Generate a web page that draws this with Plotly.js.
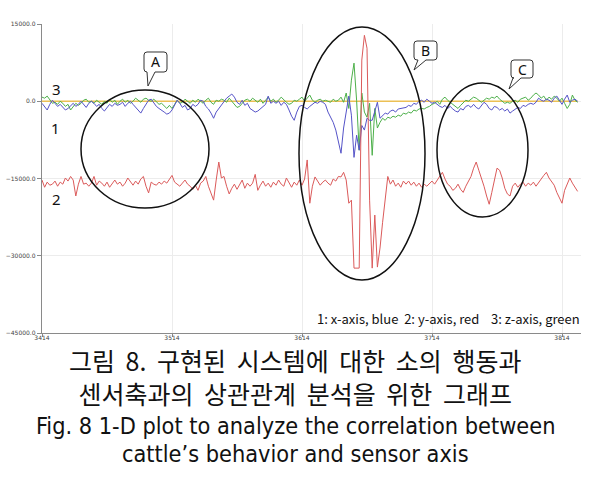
<!DOCTYPE html>
<html>
<head>
<meta charset="utf-8">
<script src="https://cdn.plot.ly/plotly-3.0.1.min.js"></script>
<style>html,body{margin:0;padding:0;background:#fff;}#chart{width:614px;height:477px;}</style>
</head>
<body>
<div id="chart"></div>
<script>
// ---- data ----
const xStart = 3414;
const xStep = 2;
const xTicks = [3414, 3514, 3614, 3714, 3814];
const xTickLabels = ["3414", "3514", "3614", "3714", "3814"];
const yTicks = [-45000, -30000, -15000, 0, 15000];
const zeroLineX = [3414, 3826];
const zeroLineY = [0, 0];

const blueX = [
 -400,-1000,-1700,-600,200,-400,-1000,-600,-1200,-1700,
 -1400,-800,-400,-1000,-600,0,-600,-1200,-400,0,
 -400,-1000,-600,-1400,-1900,-1200,-600,-1000,-400,-800,
 -600,-200,-1000,-400,0,-600,-1200,-1900,-2300,-1400,
 -600,200,400,-400,-1000,-1400,-1700,-2100,-2500,-2300,
 -1700,-600,200,-400,-1200,-800,-1700,-1400,-600,-1000,
 -600,200,0,-1000,-1500,-2300,-3300,-2100,-1400,-800,
 -200,600,1000,1400,800,-200,-600,200,-800,-400,
 -1400,-1700,-2100,-1900,-1500,-1000,-600,1000,-400,0,
 -400,0,-800,-200,-600,-1700,-2900,-3700,-2100,-1000,
 -800,-1200,-1500,-1000,-600,-200,-400,0,-200,-600,
 -2100,-3100,-4100,-5600,-7600,-10100,-5200,-2100,1000,-2700,
 -10900,-6600,-9500,-4700,-5600,-3300,-3700,-3700,-1700,-200,
 -3300,-2700,-2300,-2500,-1900,-1700,-2100,-1500,-1400,-1200,
 -1200,-800,-1000,-400,-600,0,200,-200,400,0,
 -400,-200,-600,-1000,-1200,-800,-1400,-1000,-1500,-1900,
 -2100,-1400,-1700,-1000,-800,-1200,-600,-1200,-1500,-800,
 -200,-600,-1400,-1700,-1000,-1200,-1700,-1400,-1900,-1500,
 -2300,-1900,-1500,-1200,-1400,-800,-1000,-600,-400,-600,
 -200,600,200,0,400,200,-200,600,1000,200,
 -600,400,1200,-200,200,400,0
];

const redY = [
 -15300,-16700,-15700,-16300,-16100,-15500,-16500,-15700,-16100,-14900,
 -15500,-14600,-15300,-18400,-16100,-14600,-16100,-15900,-16500,-15900,
 -14600,-16300,-15500,-15900,-16500,-15700,-16700,-16100,-15300,-16100,
 -15700,-16500,-15900,-14900,-15700,-16300,-15500,-16100,-15100,-14600,
 -16500,-17800,-15700,-16100,-16300,-15700,-16100,-15500,-15900,-15100,
 -14400,-15700,-16100,-16500,-15900,-15300,-16100,-16500,-17100,-16300,
 -17300,-15900,-15500,-14600,-16500,-17700,-19200,-15300,-11800,-14900,
 -14600,-16500,-18000,-16900,-16100,-17100,-16300,-15300,-16900,-15900,
 -16500,-15900,-14200,-17300,-16300,-15500,-16500,-15900,-16700,-15700,
 -16300,-15300,-16100,-16500,-14900,-15900,-16700,-15700,-16300,-15300,
 -16300,-15100,-11400,-19800,-16500,-14700,-15500,-16300,-15700,-15300,
 -15900,-16300,-15100,-15500,-14600,-14700,-13800,-15300,-19800,-19200,
 -32400,-32400,-32400,8000,12800,10300,-19200,-32400,-22100,-32200,
 -28500,-23500,-18800,-14600,-16100,-15300,-16500,-15900,-16700,-15500,
 -16100,-15500,-16300,-15700,-16500,-15900,-16700,-16100,-16500,-15900,
 -15500,-16100,-15300,-14600,-13800,-15100,-16100,-16500,-17300,-16900,
 -16100,-17100,-17700,-16500,-15500,-14600,-13000,-11800,-13400,-14900,
 -16500,-18400,-20000,-17700,-15300,-13000,-13400,-14900,-16900,-18000,
 -18400,-16500,-15900,-16700,-16100,-15700,-16500,-15900,-16300,-15700,
 -16500,-15900,-15100,-14400,-13800,-14900,-15700,-16300,-17700,-18800,
 -19800,-17300,-16100,-14900,-15900,-16700,-17500
];

const greenZ = [
 800,600,1000,400,-400,-200,-600,0,-400,-1000,
 -600,-1700,-1000,-400,-800,-400,200,400,-200,0,
 -400,200,-200,-600,0,-400,400,-200,200,-600,
 0,400,-200,200,-400,0,600,200,-200,400,
 600,200,0,400,-200,-600,-400,-1000,-1400,-800,
 -1400,-600,200,-400,-200,400,0,-400,200,-200,
 400,0,-400,200,600,-200,-600,200,0,400,
 200,-200,600,0,-600,-1200,-1000,-400,200,400,
 0,600,200,-200,400,-400,200,800,0,400,
 -200,200,800,200,-200,-600,-400,200,0,400,
 800,0,600,1200,200,-200,200,400,0,200,
 0,-200,400,0,200,800,-200,1600,-1400,4100,
 7400,200,-9500,1600,-2100,-3100,-400,-10500,-1400,-5200,
 -4100,-3300,-3700,-3100,-3300,-2900,-3100,-2700,-2900,-2300,
 -2500,-2100,-2300,-1700,-1900,-1500,-1400,-1500,-1200,-1000,
 -600,-400,0,-600,400,800,200,-200,-600,-1000,
 -1400,-800,-200,200,0,400,800,600,200,-200,
 200,600,400,800,600,1000,400,0,-400,-200,
 -400,0,200,-200,400,600,800,200,600,1200,
 1600,1200,600,1000,200,800,400,1000,600,0,
 600,-400,-1400,-600,1200,200,-200
];

const seriesLabels = ["1", "2", "3"];
const legendText = "1: x-axis, blue\u00a0\u00a02: y-axis, red\u00a0\u00a0\u00a0\u00a03: z-axis, green";
const calloutLabels = ["A", "B", "C"];
const captionLines = [
  "그림 \u20098. \u2009구현된 \u2009시스템에 \u2009대한 \u2009소의 \u2009행동과",
  "센서축과의 \u2009상관관계 \u2009분석을 \u2009위한 \u2009그래프",
  "Fig. 8 1-D plot to analyze the correlation between",
  "cattle\u2019s behavior and sensor axis"
];

// ---- layout helpers (pixel -> paper) ----
const L = 42, T = 24, PW = 539, PH = 309;
const X = px => (px - L) / PW;
const Y = py => (T + PH - py) / PH;

function callout(x0, y0, x1, y1, ax, tx, ty, bx) {
  const r = 3;
  const p = (x, y) => X(x).toFixed(5) + "," + Y(y).toFixed(5);
  return "M" + p(x0 + r, y0) + " L" + p(x1 - r, y0) + " Q" + p(x1, y0) + " " + p(x1, y0 + r) +
    " L" + p(x1, y1 - r) + " Q" + p(x1, y1) + " " + p(x1 - r, y1) +
    " L" + p(bx, y1) + " L" + p(tx, ty) + " L" + p(ax, y1) +
    " L" + p(x0 + r, y1) + " Q" + p(x0, y1) + " " + p(x0, y1 - r) +
    " L" + p(x0, y0 + r) + " Q" + p(x0, y0) + " " + p(x0 + r, y0) + " Z";
}

const lineW = 1;
const traces = [
  {type: "scatter", mode: "lines", x: zeroLineX, y: zeroLineY, line: {color: "#ecc055", width: 1.3}, hoverinfo: "skip"},
  {type: "scatter", mode: "lines", x0: xStart, dx: xStep, y: greenZ, line: {color: "#4db04a", width: lineW}},
  {type: "scatter", mode: "lines", x0: xStart, dx: xStep, y: blueX, line: {color: "#5553c8", width: lineW}},
  {type: "scatter", mode: "lines", x0: xStart, dx: xStep, y: redY, line: {color: "#db5a5a", width: lineW}}
];

const ellipse = (x0, y0, x1, y1) => ({type: "circle", xref: "paper", yref: "paper",
  x0: X(x0), x1: X(x1), y0: Y(y1), y1: Y(y0), line: {color: "#111", width: 1.5}});

const shapes = [
  ellipse(81, 90, 209, 208),
  ellipse(299, 27, 425, 280),
  ellipse(437, 83, 528, 217),
  {type: "path", xref: "paper", yref: "paper", path: callout(144, 52, 167, 72, 147, 148, 86, 155), fillcolor: "#fff", line: {color: "#333", width: 1}},
  {type: "path", xref: "paper", yref: "paper", path: callout(414, 41, 437, 60, 418, 414, 70, 426), fillcolor: "#fff", line: {color: "#333", width: 1}},
  {type: "path", xref: "paper", yref: "paper", path: callout(511, 60, 533, 78, 513, 509, 89, 521), fillcolor: "#fff", line: {color: "#333", width: 1}}
];

const txt = (x, y, text, size, family, color) => ({xref: "paper", yref: "paper", x: X(x), y: Y(y),
  text: text, showarrow: false, xanchor: "center", yanchor: "middle", align: "center",
  font: {size: size, family: family, color: color || "#111"}});

const kfont = "Noto Sans CJK KR, sans-serif";
const efont = "Liberation Sans Narrow, DejaVu Sans Condensed, Liberation Sans, sans-serif";
const annotations = [
  txt(56, 89, seriesLabels[2], 15, "Noto Sans, sans-serif"),
  txt(55, 128, seriesLabels[0], 15, "Noto Sans, sans-serif"),
  txt(56, 199, seriesLabels[1], 15, "Noto Sans, sans-serif"),
  txt(155.5, 62, calloutLabels[0], 14, "Noto Sans, sans-serif"),
  txt(425.5, 50.5, calloutLabels[1], 14, "Noto Sans, sans-serif"),
  txt(522, 69, calloutLabels[2], 14, "Noto Sans, sans-serif"),
  txt(448, 318, legendText, 13, kfont),
  txt(295, 376, captionLines[0] + "<br>" + captionLines[1], 25, kfont),
  txt(295, 426, captionLines[2], 23.3, efont),
  txt(295, 453, captionLines[3], 23.3, efont)
];

const layout = {
  width: 614, height: 477,
  margin: {l: L, r: 614 - L - PW, t: T, b: 477 - T - PH, pad: 0},
  paper_bgcolor: "#fff", plot_bgcolor: "#fff",
  showlegend: false,
  xaxis: {range: [3414, 3414 + PW / 1.3], tickvals: xTicks, ticktext: xTickLabels,
    showline: true, linecolor: "#8a8a8a", linewidth: 1.2, ticks: "outside", ticklen: 3, tickcolor: "#8a8a8a",
    ticklabelstandoff: -4,
    showgrid: true, gridcolor: "#ececec", zeroline: false,
    tickfont: {size: 6, color: "#444", family: "DejaVu Sans, sans-serif"}},
  yaxis: {range: [-45000, 15000], tickvals: yTicks, tickformat: ".1f",
    showline: true, linecolor: "#8a8a8a", linewidth: 1.2, ticks: "outside", ticklen: 4, tickcolor: "#8a8a8a",
    showgrid: true, gridcolor: "#ececec", zeroline: false,
    tickfont: {size: 6, color: "#444", family: "DejaVu Sans, sans-serif"}},
  shapes: shapes,
  annotations: annotations
};

Plotly.newPlot("chart", traces, layout, {staticPlot: true, displayModeBar: false});
</script>
</body>
</html>
